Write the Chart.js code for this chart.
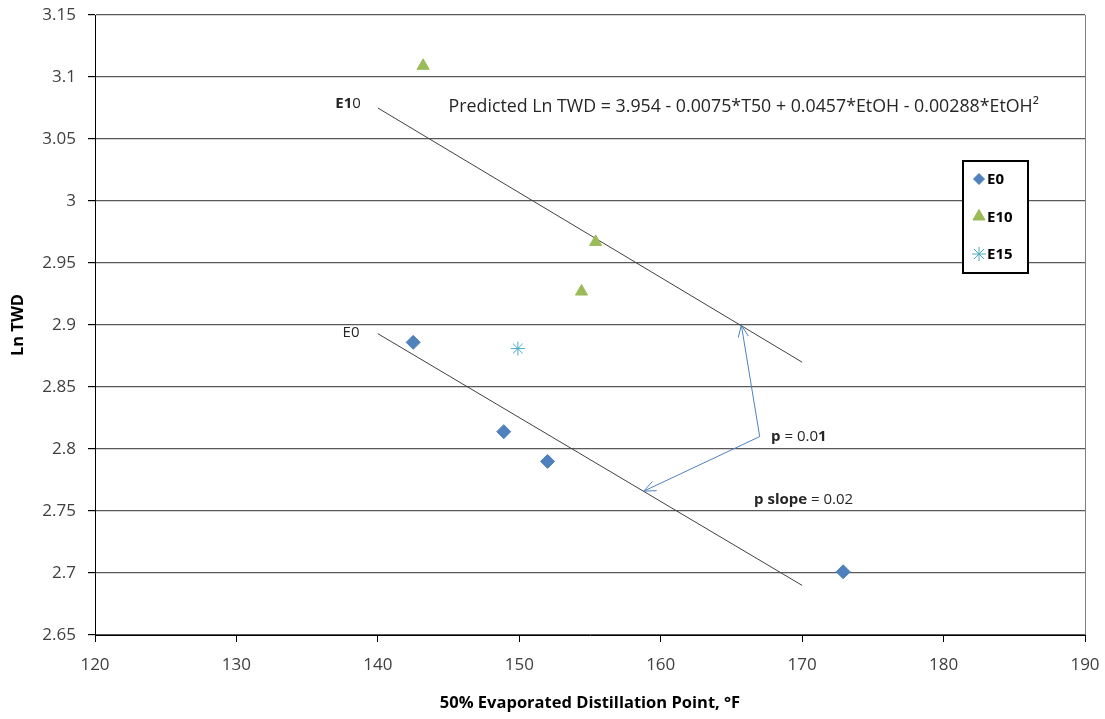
<!DOCTYPE html>
<html>
<head>
<meta charset="utf-8">
<script src="https://cdn.jsdelivr.net/npm/chart.js@4/dist/chart.umd.min.js"></script>
<style>
    html, body { margin: 0; padding: 0; background: #fff; }
    #wrap { width: 1105px; height: 719px; }
</style>
</head>
<body>
<div id="wrap"><canvas id="twdChart"></canvas></div>
<script>
// data
const e0X = [142.5, 148.9, 152.0, 172.9];
const e0Y = [2.886, 2.814, 2.790, 2.701];
const e10X = [143.2, 155.4, 154.4];
const e10Y = [3.109, 2.967, 2.927];
const e15X = [149.9];
const e15Y = [2.881];

// fitted lines (T50 from 140 to 170)
const fitX = [140, 170];
const fitE0Y = [2.893, 2.690];
const fitE10Y = [3.075, 2.870];

// arrow between the two fits: top tip, joint, bottom tip
const arrowX = [165.7, 167.0, 158.8];
const arrowY = [2.900, 2.810, 2.766];

const xTicks = [120, 130, 140, 150, 160, 170, 180, 190];
const yTicks = [2.65, 2.7, 2.75, 2.8, 2.85, 2.9, 2.95, 3, 3.05, 3.1, 3.15];

const FONT = "'Open Sans', 'Noto Sans', sans-serif";

const toPts = (xs, ys) => xs.map((x, i) => ({ x: x, y: ys[i] }));

// text notes placed in data coordinates, each is a list of [text, bold] runs
const notes = [
    { x: 138.8, y: 3.0785, align: 'right', size: 15, runs: [['E1', true], ['0', false]] },
    { x: 138.7, y: 2.894, align: 'right', size: 15, runs: [['E', false], ['0', false]] },
    { x: 145.0, y: 3.0756, align: 'left', size: 17.8, runs: [['Predicted Ln TWD = 3.954 - 0.0075*T50 + 0.0457*EtOH - 0.00288*EtOH\u00B2', false]] },
    { x: 167.8, y: 2.8096, align: 'left', size: 15, runs: [['p', true], [' = 0.0', false], ['1', true]] },
    { x: 166.6, y: 2.759, align: 'left', size: 15, runs: [['p slope', true], [' = 0.02', false]] }
];

const notesPlugin = {
    id: 'notes',
    afterDatasetsDraw(chart) {
        const { ctx, scales: { x, y } } = chart;
        ctx.save();
        ctx.fillStyle = '#262626';
        ctx.textBaseline = 'middle';
        notes.forEach(n => {
            const fonts = n.runs.map(r => (r[1] ? 'bold ' : '') + n.size + 'px ' + FONT);
            let total = 0;
            n.runs.forEach((r, i) => { ctx.font = fonts[i]; total += ctx.measureText(r[0]).width; });
            let px = x.getPixelForValue(n.x);
            if (n.align === 'right') px -= total;
            const py = y.getPixelForValue(n.y);
            ctx.textAlign = 'left';
            n.runs.forEach((r, i) => {
                ctx.font = fonts[i];
                ctx.fillText(r[0], px, py);
                px += ctx.measureText(r[0]).width;
            });
        });

        // arrow heads on both ends of the blue arrow
        ctx.strokeStyle = '#4F81BD';
        ctx.lineWidth = 1;
        const head = (i, j) => {
            const x1 = x.getPixelForValue(arrowX[i]), y1 = y.getPixelForValue(arrowY[i]);
            const x0 = x.getPixelForValue(arrowX[j]), y0 = y.getPixelForValue(arrowY[j]);
            const a = Math.atan2(y1 - y0, x1 - x0);
            ctx.beginPath();
            ctx.moveTo(x1 - 13 * Math.cos(a - 0.4), y1 - 13 * Math.sin(a - 0.4));
            ctx.lineTo(x1, y1);
            ctx.lineTo(x1 - 13 * Math.cos(a + 0.4), y1 - 13 * Math.sin(a + 0.4));
            ctx.stroke();
        };
        head(0, 1);
        head(2, 1);

        // right edge of the plot area
        const area = chart.chartArea;
        ctx.strokeStyle = '#7f7f7f';
        ctx.beginPath();
        ctx.moveTo(area.right + 0.5, area.top);
        ctx.lineTo(area.right + 0.5, area.bottom);
        ctx.stroke();
        ctx.restore();
    }
};

// boxed legend inside the plot, on the right
const boxLegend = {
    id: 'boxLegend',
    afterDraw(chart) {
        const { ctx } = chart;
        const left = 963, top = 161, w = 65, h = 112;
        ctx.save();
        ctx.fillStyle = '#fff';
        ctx.fillRect(left, top, w, h);
        ctx.strokeStyle = '#000';
        ctx.lineWidth = 2;
        ctx.strokeRect(left, top, w, h);
        const items = chart.data.datasets.filter(d => d.inLegend);
        items.forEach((d, i) => {
            const cy = top + 18 + i * 37.5;
            ctx.fillStyle = d.backgroundColor;
            ctx.strokeStyle = d.borderColor;
            ctx.lineWidth = d.pointBorderWidth || 1;
            Chart.helpers.drawPoint(ctx, { pointStyle: d.pointStyle, radius: d.legendRadius, borderWidth: d.pointBorderWidth || 1 }, left + 16, cy);
            ctx.fillStyle = '#000';
            ctx.font = 'bold 15px ' + FONT;
            ctx.textBaseline = 'middle';
            ctx.textAlign = 'left';
            ctx.fillText(d.label, left + 24, cy + 1);
        });
        ctx.restore();
    }
};

new Chart(document.getElementById('twdChart'), {
    type: 'scatter',
    data: {
        datasets: [
            {
                label: 'E0',
                inLegend: true,
                data: toPts(e0X, e0Y),
                pointStyle: 'rectRot',
                pointRadius: 7,
                legendRadius: 5.5,
                backgroundColor: '#4F81BD',
                borderColor: '#4F81BD'
            },
            {
                label: 'E10',
                inLegend: true,
                data: toPts(e10X, e10Y),
                pointStyle: 'triangle',
                pointRadius: 7,
                legendRadius: 7,
                backgroundColor: '#9BBB59',
                borderColor: '#9BBB59'
            },
            {
                label: 'E15',
                inLegend: true,
                data: toPts(e15X, e15Y),
                pointStyle: 'star',
                pointRadius: 7,
                legendRadius: 7,
                pointBorderWidth: 1,
                backgroundColor: '#4BACC6',
                borderColor: '#4BACC6'
            },
            {
                label: 'E0 fit',
                data: toPts(fitX, fitE0Y),
                showLine: true,
                pointRadius: 0,
                borderColor: '#404040',
                borderWidth: 1
            },
            {
                label: 'E10 fit',
                data: toPts(fitX, fitE10Y),
                showLine: true,
                pointRadius: 0,
                borderColor: '#404040',
                borderWidth: 1
            },
            {
                label: 'arrow',
                data: toPts(arrowX, arrowY),
                showLine: true,
                pointRadius: 0,
                borderColor: '#4F81BD',
                borderWidth: 1
            }
        ]
    },
    options: {
        responsive: true,
        maintainAspectRatio: false,
        animation: false,
        layout: { padding: { top: 15, right: 20, left: 0, bottom: 0 } },
        plugins: {
            legend: { display: false },
            tooltip: { enabled: false }
        },
        scales: {
            x: {
                type: 'linear',
                min: 120,
                max: 190,
                afterBuildTicks: axis => { axis.ticks = xTicks.map(v => ({ value: v })); },
                afterFit: axis => {
                    axis.height = 84;
                    axis.paddingLeft = 0;
                    axis.paddingRight = 0;
                },
                border: { color: '#000', width: 1 },
                grid: { drawOnChartArea: false, tickLength: 7, tickColor: '#000' },
                ticks: {
                    padding: 13,
                    color: '#404040',
                    font: { family: FONT, size: 17 }
                },
                title: {
                    display: true,
                    text: '50% Evaporated Distillation Point, \u00B0F',
                    color: '#000',
                    font: { family: FONT, size: 16.5, weight: 'bold' },
                    padding: { top: 10, bottom: 6 }
                }
            },
            y: {
                type: 'linear',
                min: 2.65,
                max: 3.15,
                afterBuildTicks: axis => { axis.ticks = yTicks.map(v => ({ value: v })); },
                afterFit: axis => {
                    axis.width = 95;
                    axis.paddingTop = 0;
                    axis.paddingBottom = 0;
                },
                border: { color: '#000', width: 1 },
                grid: { color: '#595959', lineWidth: 1.2, tickLength: 7, tickColor: '#000' },
                ticks: {
                    padding: 12,
                    color: '#404040',
                    font: { family: FONT, size: 17 },
                    callback: v => String(+v.toFixed(2))
                },
                title: {
                    display: true,
                    text: 'Ln TWD',
                    color: '#000',
                    font: { family: FONT, size: 16.5, weight: 'bold' },
                    padding: { top: 8, bottom: 6 }
                }
            }
        }
    },
    plugins: [notesPlugin, boxLegend]
});
</script>
</body>
</html>
